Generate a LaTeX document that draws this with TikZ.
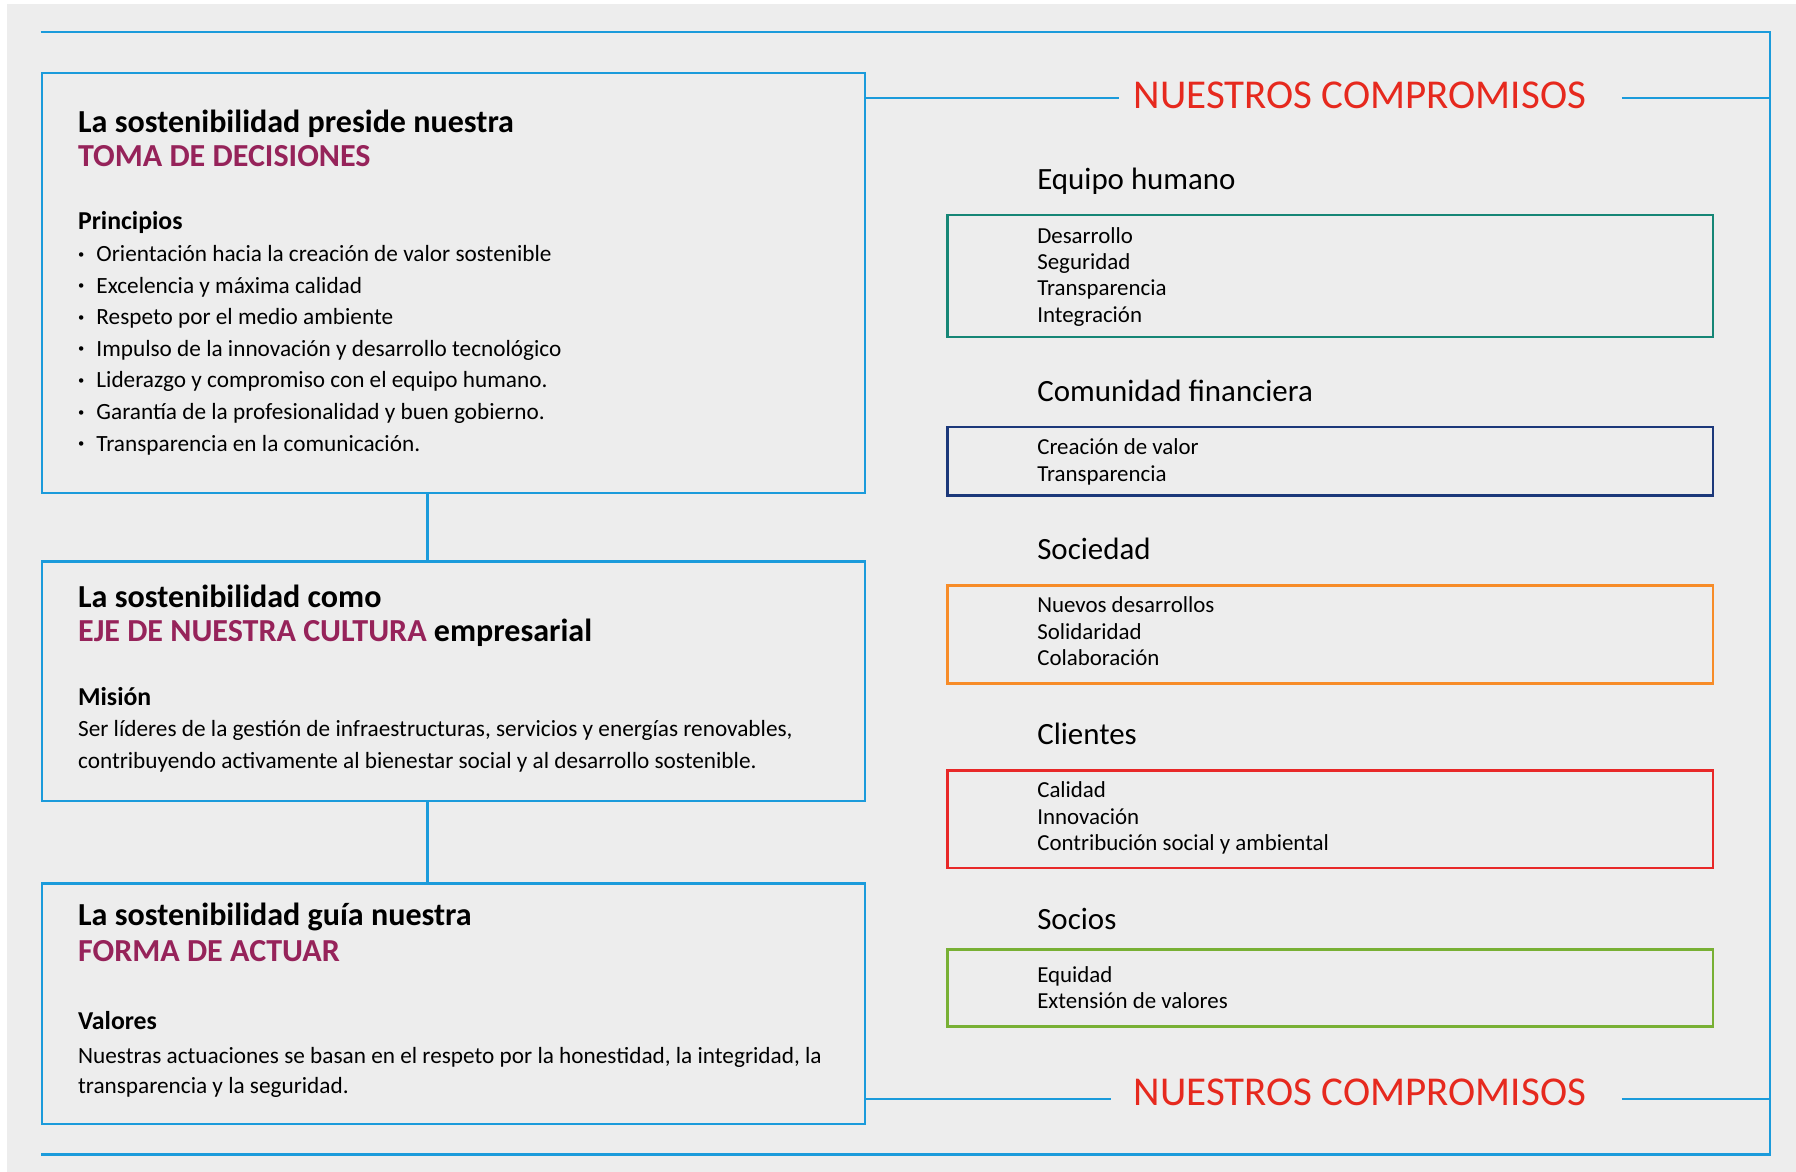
\documentclass[tikz,border=0pt]{standalone}
\usepackage{fontspec}
\setmainfont{Carlito}
\definecolor{bgGray}{RGB}{237,237,237}
\definecolor{lineBlue}{RGB}{27,155,219}
\definecolor{titleRed}{RGB}{230,41,30}
\definecolor{accentPurple}{RGB}{150,35,90}
\definecolor{teal}{RGB}{22,134,118}
\definecolor{navy}{RGB}{28,56,122}
\definecolor{orangeBox}{RGB}{247,140,40}
\definecolor{redBox}{RGB}{232,40,40}
\definecolor{greenBox}{RGB}{120,176,52}
\tikzset{
  blueline/.style={draw=lineBlue, line width=2pt},
  bigbox/.style={blueline, anchor=north west, inner sep=0pt, minimum width=718.8pt},
  grpbox/.style={line width=2.2pt, anchor=north west, inner sep=0pt, minimum width=668.4pt},
  txt/.style={anchor=base west, inner sep=0pt},
  headtxt/.style={txt, font=\fontsize{28}{32}\selectfont\bfseries},
  subtxt/.style={txt, font=\fontsize{22.5}{26}\selectfont\bfseries},
  bodytxt/.style={txt, font=\fontsize{20.3}{24}\selectfont},
  dottxt/.style={txt, font=\fontsize{11}{12}\selectfont},
  grptxt/.style={txt, font=\fontsize{27}{31}\selectfont},
  itemtxt/.style={txt, font=\fontsize{20}{24}\selectfont},
  bigred/.style={txt, text=titleRed, font=\fontsize{35.8}{40}\selectfont}
}
\begin{document}
\begin{tikzpicture}[x=1pt, y=-1pt]
    \useasboundingbox (0,0) rectangle (1568,1023);
    \fill[white] (0,0) rectangle (1568,1023);
    \fill[bgGray] (6,3.5) rectangle (1568,1023);

    % outer frame
    \coordinate (frameTL) at (35.5,27.9);
    \coordinate (frameTR) at (1545.4,27.9);
    \coordinate (frameBR) at (1545.4,1007.8);
    \coordinate (frameBL) at (35.5,1007.8);
    \draw[blueline] (frameTL) -- (frameTR) -- (frameBR) -- (frameBL);

    % left column
    \node[bigbox, minimum height=366.7pt] (decisiones) at (35.5,62.6) {};
    \node[bigbox, minimum height=209.3pt] (cultura) at (35.5,489.1) {};
    \node[bigbox, minimum height=209.9pt] (actuar) at (35.5,770.3) {};
    \draw[blueline] ([xshift=-22.6pt]decisiones.south) -- ([xshift=-22.6pt]cultura.north);
    \draw[blueline] ([xshift=-22.6pt]cultura.south) -- ([xshift=-22.6pt]actuar.north);

    % box 1
    \node[headtxt] (decTit) at (68,115.8) {La sostenibilidad preside nuestra};
    \node[headtxt, text=accentPurple] (decSub) at (68,145.5) {TOMA DE DECISIONES};
    \node[subtxt] (principios) at (68,200.2) {Principios};
    \foreach \item [count=\i] in {Orientación hacia la creación de valor sostenible,
        Excelencia y máxima calidad, Respeto por el medio ambiente,
        Impulso de la innovación y desarrollo tecnológico,
        Liderazgo y compromiso con el equipo humano.,
        Garantía de la profesionalidad y buen gobierno.,
        Transparencia en la comunicación.}{
      \node[dottxt] (bul\i) at (68,225.5+27.55*\i-27.55) {\textbullet};
      \node[bodytxt] (princ\i) at (84,228.5+27.55*\i-27.55) {\item};
    }

    % box 2
    \node[headtxt] (culTit) at (68,530.5) {La sostenibilidad como};
    \node[headtxt] (culSub) at (68,560.2) {\textcolor{accentPurple}{EJE DE NUESTRA CULTURA} empresarial};
    \node[subtxt] (mision) at (68,616.1) {Misión};
    \node[bodytxt] (misA) at (68,643.2) {Ser líderes de la gestión de infraestructuras, servicios y energías renovables,};
    \node[bodytxt] (misB) at (68,670.8) {contribuyendo activamente al bienestar social y al desarrollo sostenible.};

    % box 3
    \node[headtxt] (actTit) at (68,807.6) {La sostenibilidad guía nuestra};
    \node[headtxt, text=accentPurple] (actSub) at (68,839.6) {FORMA DE ACTUAR};
    \node[subtxt] (valores) at (68,898.7) {Valores};
    \node[bodytxt] (valA) at (68,928.9) {Nuestras actuaciones se basan en el respeto por la honestidad, la integridad, la};
    \node[bodytxt] (valB) at (68,955.1) {transparencia y la seguridad.};

    % titles right
    \node[bigred] (compTop) at (989.7,94.6) {NUESTROS COMPROMISOS};
    \node[bigred] (compBot) at (989.7,965.3) {NUESTROS COMPROMISOS};
    \coordinate (topL) at (976.5,85.6);
    \coordinate (topR) at (1416,85.6);
    \coordinate (botL) at (969.6,959.5);
    \coordinate (botR) at (1416,959.5);
    \draw[blueline] (decisiones.east |- topL) -- (topL);
    \draw[blueline] (topR) -- (frameTR |- topR);
    \draw[blueline] (actuar.east |- botL) -- (botL);
    \draw[blueline] (botR) -- (frameTR |- botR);

    % equipo humano
    \node[grptxt] (equipo) at (905.4,165.3) {Equipo humano};
    \node[grpbox, draw=teal, minimum height=106.5pt] (equipoBox) at (826.2,186.8) {};
    \node[itemtxt] (eq1) at (905.4,212.4) {Desarrollo};
    \node[itemtxt] (eq2) at (905.4,235.1) {Seguridad};
    \node[itemtxt] (eq3) at (905.4,258.4) {Transparencia};
    \node[itemtxt] (eq4) at (905.4,281.7) {Integración};

    % comunidad financiera
    \node[grptxt] (comunidad) at (905.4,350.7) {Comunidad financiera};
    \node[grpbox, draw=navy, minimum height=59.7pt] (comunidadBox) at (826.2,371.6) {};
    \node[itemtxt] (cf1) at (905.4,397.2) {Creación de valor};
    \node[itemtxt] (cf2) at (905.4,420.0) {Transparencia};

    % sociedad
    \node[grptxt] (sociedad) at (905.4,488.5) {Sociedad};
    \node[grpbox, draw=orangeBox, minimum height=85.5pt] (sociedadBox) at (826.2,509.9) {};
    \node[itemtxt] (so1) at (905.4,534.9) {Nuevos desarrollos};
    \node[itemtxt] (so2) at (905.4,558.2) {Solidaridad};
    \node[itemtxt] (so3) at (905.4,581.4) {Colaboración};

    % clientes
    \node[grptxt] (clientes) at (905.4,649.8) {Clientes};
    \node[grpbox, draw=redBox, minimum height=85.3pt] (clientesBox) at (826.2,671.4) {};
    \node[itemtxt] (cl1) at (905.4,696.4) {Calidad};
    \node[itemtxt] (cl2) at (905.4,719.7) {Innovación};
    \node[itemtxt] (cl3) at (905.4,742.1) {Contribución social y ambiental};

    % socios
    \node[grptxt] (socios) at (905.4,811.4) {Socios};
    \node[grpbox, draw=greenBox, minimum height=66.9pt] (sociosBox) at (826.2,828.0) {};
    \node[itemtxt] (sc1) at (905.4,857.9) {Equidad};
    \node[itemtxt] (sc2) at (905.4,880.3) {Extensión de valores};

\end{tikzpicture}
\end{document}
